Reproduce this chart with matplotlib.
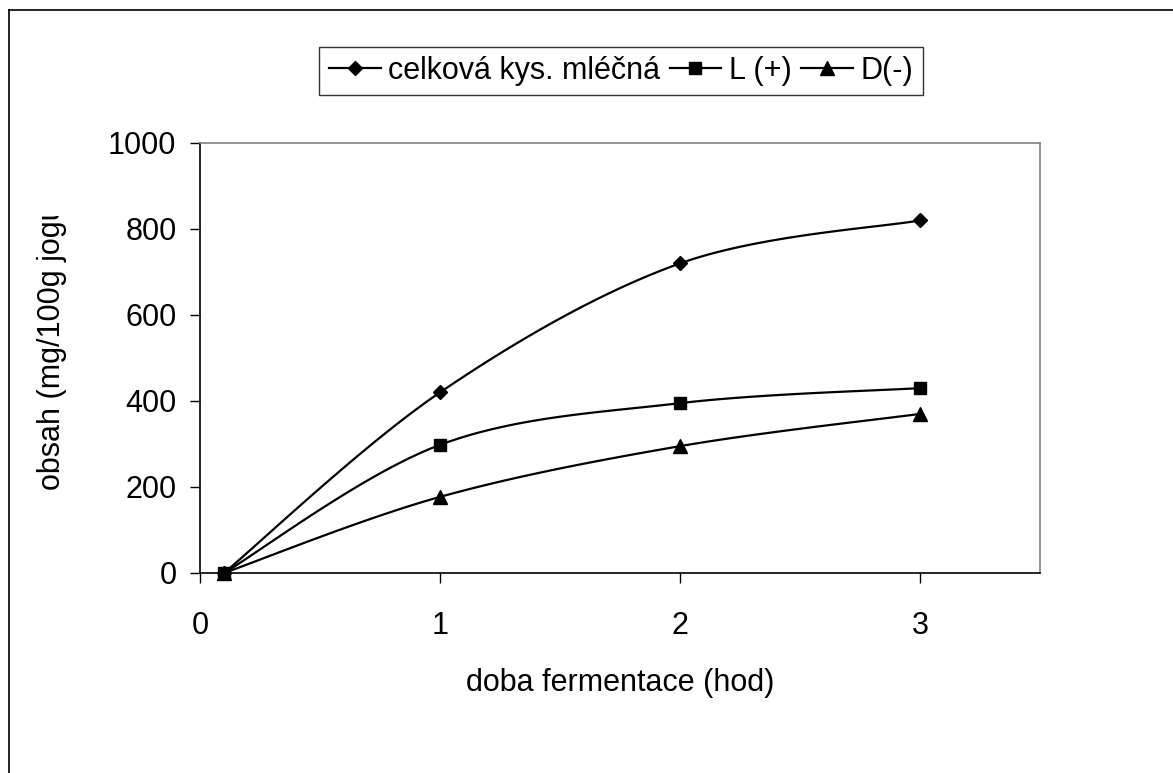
import numpy as np
import matplotlib
matplotlib.use('Agg')
from matplotlib import pyplot as plt
from matplotlib.lines import Line2D
from matplotlib.transforms import Bbox

plt.rcParams['font.family'] = ['Liberation Sans', 'DejaVu Sans']

# doba fermentace (hod)
cas = [0.1, 1, 2, 3]
# obsah kyseliny mléčné (mg/100g)
celkova = [0, 420, 720, 820]
l_plus = [0, 298, 395, 430]
d_minus = [0, 177, 295, 370]

nazvy = ['celková kys. mléčná', 'L (+)', 'D(-)']
znacky = ['D', 's', '^']
velikosti = [7.5, 8, 9.5]


def vyhladit(x, y, n=40):
    # vyhlazená křivka přes body (Bezierovy segmenty jako v Excelu)
    p = np.column_stack([x, y]).astype(float)
    p = np.vstack([p[0], p, p[-1]])
    t = np.linspace(0, 1, n)[:, None]
    out = []
    for i in range(1, len(p) - 2):
        a, b = p[i], p[i + 1]
        c1 = a + (p[i + 1] - p[i - 1]) / 6
        c2 = b - (p[i + 2] - p[i]) / 6
        seg = ((1 - t) ** 3) * a + 3 * ((1 - t) ** 2) * t * c1 + 3 * (1 - t) * t ** 2 * c2 + t ** 3 * b
        out.append(seg if i == 1 else seg[1:])
    out = np.vstack(out)
    return out[:, 0], out[:, 1]


fig = plt.figure(figsize=(11.73, 7.73), dpi=100)
ax = fig.add_axes([200 / 1173, 1 - 573 / 773, 840 / 1173, 430 / 773])

for serie, zn, vel in zip([celkova, l_plus, d_minus], znacky, velikosti):
    sx, sy = vyhladit(cas, serie)
    ax.plot(sx, sy, color='black', lw=1.6, clip_on=False)
    ax.plot(cas, serie, ls='none', marker=zn, ms=vel, color='black', clip_on=False, zorder=3)

ax.set_xlim(0, 3.5)
ax.set_ylim(0, 1000)
ax.set_xticks([0, 1, 2, 3])
ax.set_yticks(range(0, 1001, 200))
ax.tick_params(labelsize=22, length=7, width=1, direction='out', color='black')
ax.tick_params(axis='x', pad=20)
ax.tick_params(axis='y', pad=10)
for s in ['left', 'bottom']:
    ax.spines[s].set_color('black')
    ax.spines[s].set_linewidth(1.2)
for s in ['top', 'right']:
    ax.spines[s].set_color('#808080')
    ax.spines[s].set_linewidth(1.2)

ax.set_xlabel('doba fermentace (hod)', fontsize=22, labelpad=20)

# popisek osy y je nahoře oříznutý
ylab = fig.text(52 / 1173, 1 - 490 / 773, 'obsah (mg/100g jogurtu)', rotation=90,
                fontsize=22, ha='center', va='bottom')
ylab.set_clip_box(Bbox([[0, 0], [200, 773 - 216]]))
ylab.set_clip_on(True)

handles = [Line2D([], [], color='black', lw=1.6, marker=zn, ms=vel)
           for zn, vel in zip(znacky, velikosti)]
leg = fig.legend(handles, nazvy, loc='center', bbox_to_anchor=(621 / 1173, 1 - 71 / 773),
                 ncol=3, fontsize=22, frameon=True, fancybox=False, handlelength=1.7,
                 handletextpad=0.25, columnspacing=0.3, borderpad=0.3, borderaxespad=0)
leg.get_frame().set_edgecolor('black')
leg.get_frame().set_linewidth(1.0)

# vnější rámeček grafu
fig.add_artist(Line2D([9 / 1173, 9 / 1173], [0, 1 - 10 / 773], color='black', lw=1.2,
                      transform=fig.transFigure))
fig.add_artist(Line2D([9 / 1173, 1], [1 - 10 / 773, 1 - 10 / 773], color='black', lw=1.2,
                      transform=fig.transFigure))

fig.savefig('out.png', dpi=100)
